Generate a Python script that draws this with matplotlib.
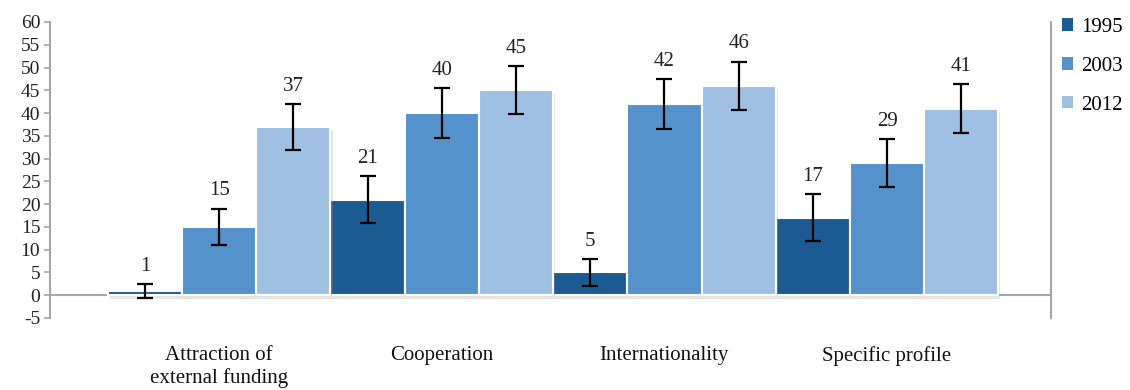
import matplotlib.pyplot as plt
import matplotlib.patheffects as pe
from matplotlib.patches import Patch
import numpy as np

# Data
categories = ["Attraction of\nexternal funding", "Cooperation", "Internationality", "Specific profile"]
years = ["1995", "2003", "2012"]
values_1995 = [1, 21, 5, 17]
values_2003 = [15, 40, 42, 29]
values_2012 = [37, 45, 46, 41]
err_1995 = [1.5, 5.2, 3.0, 5.2]
err_2003 = [4.0, 5.5, 5.5, 5.3]
err_2012 = [5.0, 5.3, 5.3, 5.3]

colors = ["#1c5a92", "#5591cb", "#9fc0e3"]
series = [values_1995, values_2003, values_2012]
errors = [err_1995, err_2003, err_2012]

plt.rcParams["font.family"] = ["Liberation Serif", "DejaVu Serif"]
plt.rcParams["axes.unicode_minus"] = False

fig = plt.figure(figsize=(11.3, 3.9), dpi=100)
ax = fig.add_axes([50 / 1130, 1 - 318 / 390, 1001 / 1130, 296 / 390])

gruppe = np.arange(len(categories)) * 3 + 1
shadow = [pe.SimplePatchShadow(offset=(1.5, -2.5), shadow_rgbFace="#999999", alpha=0.25), pe.Normal()]

for i, (vals, errs) in enumerate(zip(series, errors)):
    x = gruppe + (i - 1)
    bars = ax.bar(x, vals, width=1.0, color=colors[i], edgecolor="white",
                  linewidth=1.5, zorder=2)
    for b in bars:
        b.set_path_effects(shadow)
    ax.errorbar(x, vals, yerr=errs, fmt="none", ecolor="black", elinewidth=1.6,
                capsize=5.5, capthick=1.6, zorder=3)
    for xi, v, e in zip(x, vals, errs):
        ax.text(xi, v + e + 3.9, str(v), ha="center", va="center",
                fontsize=15, color="#222222", zorder=4)

ax.set_xlim(-1.28, 12.21)
ax.set_ylim(-5, 60)
ax.set_yticks(np.arange(-5, 61, 5))
ax.set_xticks(gruppe)
ax.set_xticklabels(categories, fontsize=15, color="#111111", va="top", linespacing=1.25)
ax.tick_params(axis="x", length=0, pad=20)
ax.tick_params(axis="y", length=4, width=1.2, color="#a6a6a6", labelsize=14,
               labelcolor="#222222", pad=3)

ax.axhline(0, color="#a6a6a6", linewidth=1.5, zorder=1)
for s in ["top", "bottom"]:
    ax.spines[s].set_visible(False)
for s in ["left", "right"]:
    ax.spines[s].set_color("#a6a6a6")
    ax.spines[s].set_linewidth(1.5)

handles = [Patch(facecolor=c, edgecolor="none") for c in colors]
ax.legend(handles, years, loc="upper left", bbox_to_anchor=(1062 / 1130, 1 - 18 / 390),
          bbox_transform=fig.transFigure, frameon=False, fontsize=15,
          handlelength=0.55, handleheight=0.55, handletextpad=0.35,
          labelspacing=0.95, borderaxespad=0, borderpad=0)

fig.savefig("out.png", dpi=100)
